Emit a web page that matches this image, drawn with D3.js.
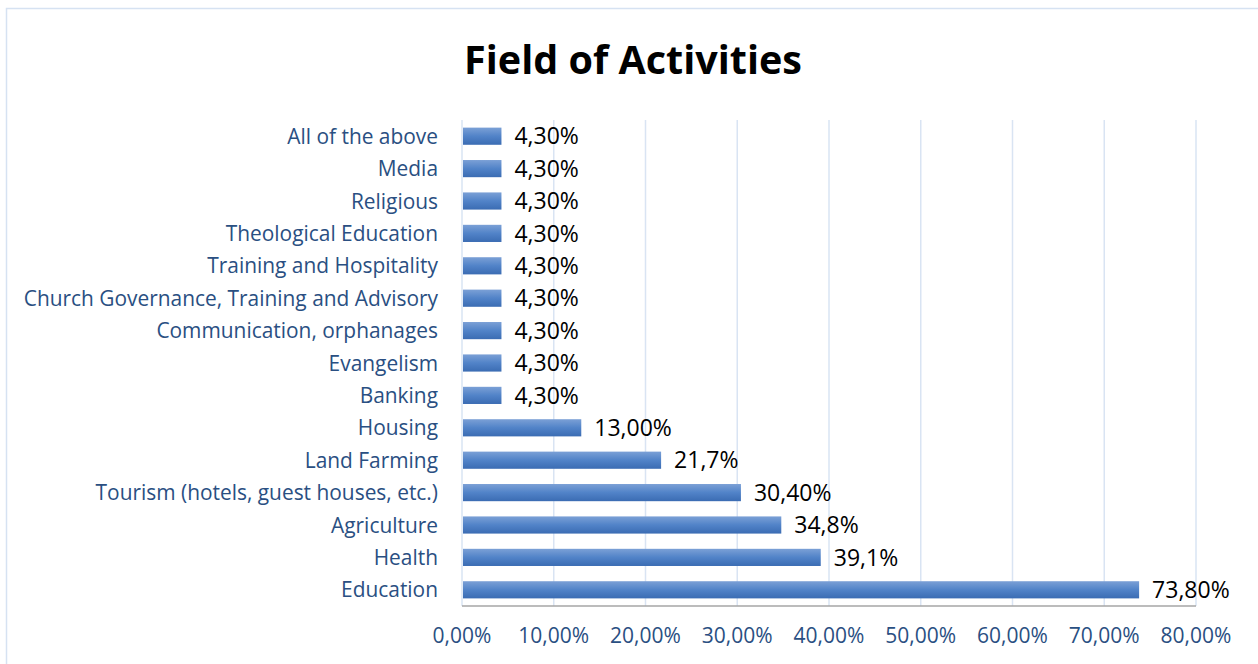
<!DOCTYPE html>
<html>
<head>
<meta charset="utf-8">
<script src="https://cdn.jsdelivr.net/npm/d3@7"></script>
<style>
  body { margin: 0; background: #fff; }
  svg { display: block; font-family: "Open Sans", Lato, sans-serif; }
</style>
</head>
<body>
<svg id="chart" width="1258" height="664"></svg>
<script>
// categories top to bottom
const categories = [
  "All of the above", "Media", "Religious", "Theological Education",
  "Training and Hospitality", "Church Governance, Training and Advisory",
  "Communication, orphanages", "Evangelism", "Banking", "Housing",
  "Land Farming", "Tourism (hotels, guest houses, etc.)", "Agriculture",
  "Health", "Education"
];
const values = [4.3, 4.3, 4.3, 4.3, 4.3, 4.3, 4.3, 4.3, 4.3, 13.0, 21.7, 30.4, 34.8, 39.1, 73.8];
const valueLabels = ["4,30%", "4,30%", "4,30%", "4,30%", "4,30%", "4,30%", "4,30%", "4,30%", "4,30%",
  "13,00%", "21,7%", "30,40%", "34,8%", "39,1%", "73,80%"];
const xTicks = [0, 10, 20, 30, 40, 50, 60, 70, 80];

const svg = d3.select('#chart');
const margin = { left: 462, right: 62, top: 120, bottom: 58 };
const width = +svg.attr('width');
const height = +svg.attr('height');

// chart border
svg.append('rect')
  .attr('x', 6.5).attr('y', 8.5)
  .attr('width', 1262).attr('height', 670)
  .attr('fill', 'none').attr('stroke', '#d6e2f2').attr('stroke-width', 1.5);

// gradient for bars
const grad = svg.append('defs').append('linearGradient')
  .attr('id', 'barGrad').attr('x1', 0).attr('y1', 0).attr('x2', 0).attr('y2', 1);
grad.append('stop').attr('offset', '0%').attr('stop-color', '#7ba0d6');
grad.append('stop').attr('offset', '50%').attr('stop-color', '#5183c8');
grad.append('stop').attr('offset', '100%').attr('stop-color', '#3b6cb3');

const x = d3.scaleLinear().domain([0, 80]).range([margin.left, width - margin.right]);
const y = d3.scaleBand().domain(categories)
  .range([margin.top, height - margin.bottom]).paddingInner(0.47).paddingOuter(0.235);

// title
svg.append('text')
  .attr('x', 633).attr('y', 74)
  .attr('text-anchor', 'middle')
  .attr('font-size', 39.5).attr('font-weight', 'bold').attr('fill', '#000')
  .text('Field of Activities');

// gridlines
svg.append('g').selectAll('line').data(xTicks)
  .enter().append('line')
    .attr('x1', d => x(d)).attr('x2', d => x(d))
    .attr('y1', margin.top).attr('y2', height - margin.bottom)
    .attr('stroke', '#d9e4f3').attr('stroke-width', 1.5);

// bars
svg.append('g').selectAll('rect').data(values)
  .enter().append('rect')
    .attr('x', x(0) + 1)
    .attr('y', (d, i) => y(categories[i]))
    .attr('width', d => x(d) - x(0) - 1)
    .attr('height', y.bandwidth())
    .attr('fill', 'url(#barGrad)');

// bottom axis line
svg.append('line')
  .attr('x1', x(0)).attr('x2', x(80))
  .attr('y1', height - margin.bottom).attr('y2', height - margin.bottom)
  .attr('stroke', '#a6a6a6').attr('stroke-width', 1.5);

// value labels
svg.append('g').selectAll('text').data(values)
  .enter().append('text')
    .attr('x', d => x(d) + 13)
    .attr('y', (d, i) => y(categories[i]) + y.bandwidth() / 2)
    .attr('dy', '0.36em')
    .attr('font-size', 23).attr('fill', '#000')
    .text((d, i) => valueLabels[i]);

// category labels
svg.append('g').selectAll('text').data(categories)
  .enter().append('text')
    .attr('x', 438)
    .attr('y', d => y(d) + y.bandwidth() / 2)
    .attr('dy', '0.36em')
    .attr('text-anchor', 'end')
    .attr('font-size', 20.9).attr('fill', '#2a4f82')
    .text(d => d);

// x tick labels
svg.append('g').selectAll('text').data(xTicks)
  .enter().append('text')
    .attr('x', d => x(d))
    .attr('y', 643)
    .attr('text-anchor', 'middle')
    .attr('font-size', 21).attr('fill', '#2a4f82')
    .text(d => d3.format('.2f')(d).replace('.', ',') + '%');
</script>
</body>
</html>
